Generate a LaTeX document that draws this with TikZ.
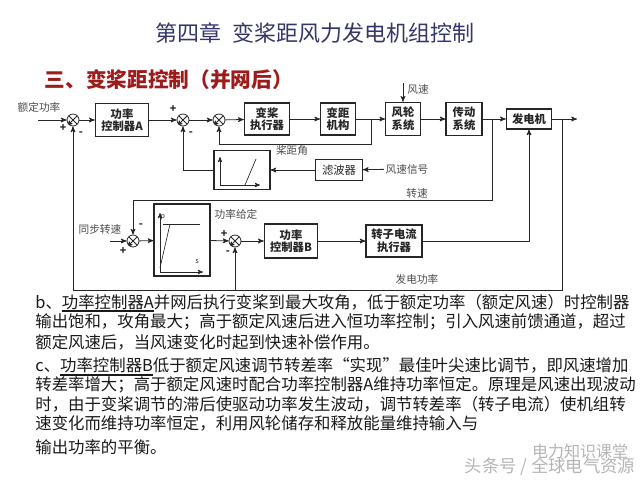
\documentclass[tikz,border=0pt]{standalone}
\usepackage{fontspec}
\setmainfont{Noto Sans CJK SC}
\usetikzlibrary{positioning, arrows}

\definecolor{titleblue}{HTML}{35356A}
\definecolor{subred}{HTML}{9E1B1B}
\definecolor{wmgray}{HTML}{B4B4B4}

\newsavebox{\undlbox}
\newcommand{\undl}[1]{\sbox{\undlbox}{#1}\rlap{\rule[-3pt]{\wd\undlbox}{1.3pt}}\usebox{\undlbox}}

\tikzset{
  blk/.style={draw, line width=0.8pt, align=center, inner sep=1pt,
    font=\fontsize{8.5}{9.5}\selectfont\bfseries},
  sum/.style={draw, circle, minimum size=9pt, inner sep=0pt,
    path picture={\draw (path picture bounding box.north west) -- (path picture bounding box.south east)
      (path picture bounding box.north east) -- (path picture bounding box.south west);}},
  lbl/.style={font=\fontsize{8}{9}\selectfont, text=black!70, inner sep=1pt},
  sgn/.style={font=\fontsize{8}{8}\selectfont\bfseries, inner sep=0pt},
  txt/.style={anchor=west, inner sep=0pt, font=\fontsize{12.3}{14}\selectfont, text=black!90}
}

\begin{document}
\begin{tikzpicture}[x=0.75pt, y=-0.75pt, ->, >=stealth', line width=0.6pt, color=black!85]
    \useasboundingbox (0,0) rectangle (640,480);

    % heading
    \node[font=\fontsize{16.5}{18}\selectfont, text=titleblue] (title) at (315,33) {第四章\hspace{0.5em}变桨距风力发电机组控制};
    \node[anchor=west, font=\fontsize{15.5}{17}\selectfont\bfseries, text=subred] (sub) at (40,80) {三、变桨距控制（并网后）};

    % pitch loop, top row
    \coordinate (in1) at (38,120);
    \node[sum] (s1) at (73,120) {};
    \node[blk, minimum width=40pt, minimum height=25pt] (ctrlA) at (122,120) {功率\\控制器A};
    \node[sum] (s2) at (183,120) {};
    \node[sum] (s3) at (219,120) {};
    \node[blk, minimum width=34pt, minimum height=24pt] (act) at (267,119) {变桨\\执行器};
    \node[blk, minimum width=26pt, minimum height=24pt] (pitch) at (338,119) {变距\\机构};
    \node[blk, minimum width=26pt, minimum height=25pt] (rotor) at (403,119) {风轮\\系统};
    \node[blk, minimum width=27pt, minimum height=25pt] (drive) at (464,119) {传动\\系统};
    \node[blk, minimum width=34pt, minimum height=15pt] (gen) at (529,119) {发电机};
    \coordinate (out) at (577,119);
    \coordinate (wind) at (403,83);
    \coordinate (bp) at (371,119);
    \coordinate (bd) at (492,119);
    \coordinate (bg) at (562,119);

    % feed forward row
    \node[blk, minimum width=42pt, minimum height=29pt] (sat1) at (242,170) {};
    \node[blk, minimum width=35pt, minimum height=16pt, font=\fontsize{8.5}{9.5}\selectfont] (filt) at (339,170) {滤波器};
    \node[lbl] (sig) at (407,169) {风速信号};

    % speed loop, bottom row
    \coordinate (sync) at (110,241);
    \node[sum] (s4) at (133,241) {};
    \node[blk, minimum width=42pt, minimum height=54pt] (sat2) at (182,240) {};
    \node[sum] (s5) at (235,241) {};
    \node[blk, minimum width=40pt, minimum height=25.5pt] (ctrlB) at (291,241) {功率\\控制器B};
    \node[blk, minimum width=42pt, minimum height=24pt] (rc) at (394,241) {转子电流\\执行器};
    \coordinate (jn) at (235,290);

    % labels
    \node[lbl] (lrated) at (39,107) {额定功率};
    \node[lbl, below right=0pt and 2pt of wind] (lwind) {风速};
    \node[lbl] (lpitch) at (292,150) {桨距角};
    \node[lbl] (lspeed) at (417,193) {转速};
    \node[lbl] (lsync) at (100,229) {同步转速};
    \node[lbl] (lpref) at (236,214) {功率给定};
    \node[lbl] (lpower) at (417,279) {发电功率};

    % signs
    \node[sgn] at (63,128) {+};
    \node[sgn] at (81,134) {-};
    \node[sgn] at (173,109) {+};
    \node[sgn] at (191,134) {-};
    \node[sgn] at (123,251) {+};
    \node[sgn] at (141,226) {-};
    \node[sgn] at (224,234) {+};
    \node[sgn] at (228,253) {-};

    % forward path
    \draw (in1) -- (s1);
    \draw (s1) -- (ctrlA);
    \draw (ctrlA) -- (s2);
    \draw (s2) -- (s3);
    \draw (s3) -- (act);
    \draw (act) -- (pitch);
    \draw (pitch) -- (rotor);
    \draw (rotor) -- (drive);
    \draw (drive) -- (gen);
    \draw (gen) -- (out);
    \draw (wind) -- (rotor);

    % feedback and feed forward
    \draw (bp) -- ++(0,25) -| (s3);
    \draw (sig) -- (filt);
    \draw (filt) -- (sat1);
    \draw (sat1.west) -| (s2);
    \draw (bd) -- ++(0,81) -| (s4);
    \draw (bg) -- ++(0,171) -| (s1);
    \draw (jn) -- (s5);
    \draw (sync) -- (s4);
    \draw (s4) -- (sat2);
    \draw (sat2) -- (s5);
    \draw (s5) -- (ctrlB);
    \draw (ctrlB) -- (rc);
    \draw (rc) -| (gen);

    % curves inside the limiter blocks
    \begin{scope}[shift={(sat1.center)}, line width=0.5pt]
        \draw (-22,15) -- (-22,-13);
        \draw (-22,15) -- (18,15);
        \draw[-] (3,15) -- (14,-11);
    \end{scope}
    \begin{scope}[shift={(sat2.center)}, line width=0.5pt]
        \draw (-22,32) -- (-22,-27);
        \draw (-22,32) -- (21,32);
        \draw[-] (-22,28) -- (-12,-16);
        \draw[-] (-19,-16) -- (18,-16);
        \node[font=\fontsize{5}{5}\selectfont, inner sep=0pt] (pp) at (-19,-23) {p};
        \node[font=\fontsize{5.5}{6}\selectfont, inner sep=0pt] (ss) at (15,21) {s};
    \end{scope}

    % notes
    \node[txt] (l1) at (35,303) {b、\undl{功率控制器A}并网后执行变桨到最大攻角，低于额定功率（额定风速）时控制器};
    \node[txt] (l2) at (35,322) {输出饱和，攻角最大；高于额定风速后进入恒功率控制；引入风速前馈通道，超过};
    \node[txt] (l3) at (35,342) {额定风速后，当风速变化时起到快速补偿作用。};
    \node[txt] (l4) at (35,367) {c、\undl{功率控制器B}低于额定风速调节转差率“实现”最佳叶尖速比调节，即风速增加};
    \node[txt] (l5) at (35,385) {转差率增大；高于额定风速时配合功率控制器A维持功率恒定。原理是风速出现波动};
    \node[txt] (l6) at (35,404) {时，由于变桨调节的滞后使驱动功率发生波动，调节转差率（转子电流）使机组转};
    \node[txt] (l7) at (35,423) {速变化而维持功率恒定，利用风轮储存和释放能量维持输入与};
    \node[txt] (l8) at (35,447) {输出功率的平衡。};

    % watermark
    \node[font=\fontsize{12}{13}\selectfont, text=wmgray] (wm1) at (580,451) {电力知识课堂};
    \node[font=\fontsize{13}{14}\selectfont, text=wmgray] (wm2) at (550,467) {头条号 / 全球电气资源};
\end{tikzpicture}
\end{document}
